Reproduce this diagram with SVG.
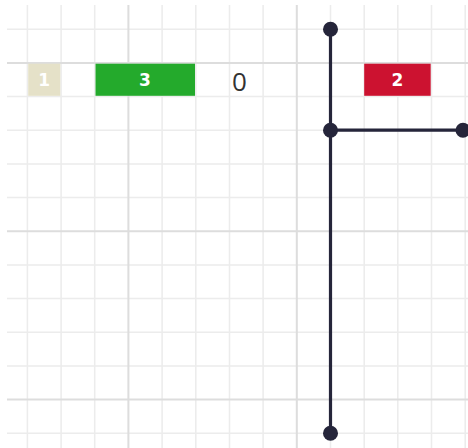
<svg xmlns="http://www.w3.org/2000/svg" width="468" height="448" viewBox="0 0 468 448">
<style>
.minor{stroke:#ececec;stroke-width:1.5;fill:none}
.major{stroke:#dddddd;stroke-width:2;fill:none}
.lbl{font-family:"DejaVu Sans",Verdana,sans-serif;font-weight:bold;font-size:17px;fill:#ffffff;text-anchor:middle}
.wire{stroke:#25253a;stroke-width:3.2;fill:none;stroke-linecap:round}
.dot{fill:#25253a}
</style>
<rect x="0" y="0" width="468" height="448" fill="#ffffff"/>
<g id="grid">
<path class="minor" d="M27.4 5V448M61.1 5V448M94.7 5V448M162.1 5V448M195.8 5V448M229.5 5V448M263.1 5V448M330.5 5V448M364.2 5V448M397.8 5V448M431.5 5V448M465.2 5V448"/>
<path class="minor" d="M7 29.2H468M7 96.5H468M7 130.2H468M7 163.9H468M7 197.6H468M7 264.9H468M7 298.6H468M7 332.3H468M7 366H468M7 433.3H468"/>
<path class="major" d="M128.4 5V448M296.8 5V448M7 62.9H468M7 231.2H468M7 399.6H468"/>
</g>
<g id="connectors">
<path class="wire" d="M330.5 29.2V433.3"/>
<path class="wire" d="M330.5 130.2H463"/>
<circle class="dot" cx="330.5" cy="29.2" r="7.5"/>
<circle class="dot" cx="330.5" cy="130.2" r="7.5"/>
<circle class="dot" cx="463" cy="130.2" r="7.5"/>
<circle class="dot" cx="330.5" cy="433.3" r="7.5"/>
</g>
<g id="node-1">
<rect x="28.2" y="63.7" width="32.1" height="32.1" fill="#e5e1c8"/>
<text class="lbl" x="44.2" y="86.3">1</text>
</g>
<g id="node-3">
<rect x="95.5" y="63.7" width="99.5" height="32.1" fill="#24aa2c"/>
<text class="lbl" x="145" y="86.3">3</text>
</g>
<g id="node-0">
<text x="239.5" y="91" font-family="'Open Sans','DejaVu Sans',sans-serif" font-size="26" fill="#333333" text-anchor="middle">0</text>
</g>
<g id="node-2">
<rect x="364.2" y="63.7" width="66.5" height="32.1" fill="#cc1230"/>
<text class="lbl" x="397.5" y="86.3">2</text>
</g>
</svg>
